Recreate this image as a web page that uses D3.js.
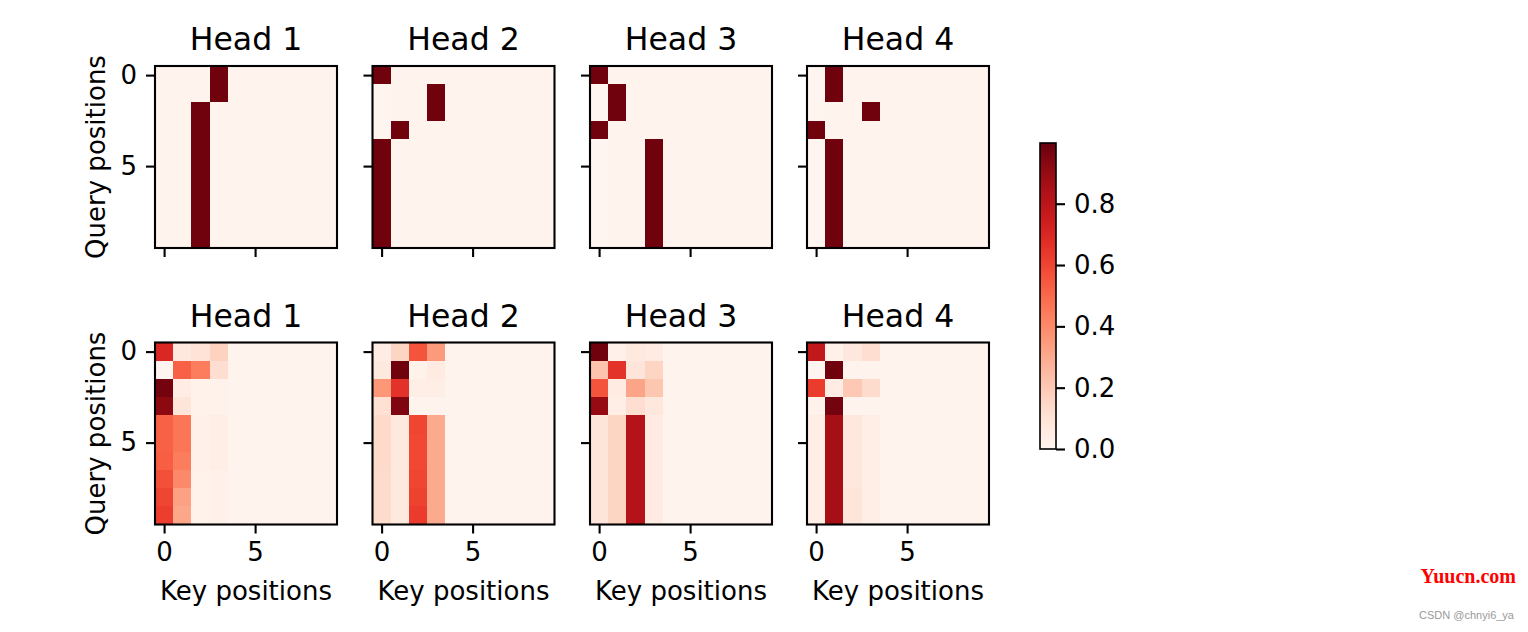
<!DOCTYPE html>
<html>
<head>
<meta charset="utf-8">
<script src="https://cdn.jsdelivr.net/npm/d3@7"></script>
<style>
  html, body { margin: 0; padding: 0; background: #ffffff; }
  svg { display: block; }
  text { font-family: "DejaVu Sans", sans-serif; }
</style>
</head>
<body>
<svg id="chart" width="1528" height="632"></svg>
<script>
// ---------- data ----------
const headTitles = ["Head 1", "Head 2", "Head 3", "Head 4"];
const xTicks = [0, 5];
const yTicks = [0, 5];
const cbarTicks = [0.0, 0.2, 0.4, 0.6, 0.8];
const xLabel = "Key positions";
const yLabel = "Query positions";
const vmax = 0.998;

// top row: each row = one query, columns = keys 0..9
const B = 0.01, D = 0.98;
const topHead1 = [
  [B,B,B,D,B,B,B,B,B,B],
  [B,B,B,D,B,B,B,B,B,B],
  [B,B,D,B,B,B,B,B,B,B],
  [B,B,D,B,B,B,B,B,B,B],
  [B,B,D,B,B,B,B,B,B,B],
  [B,B,D,B,B,B,B,B,B,B],
  [B,B,D,B,B,B,B,B,B,B],
  [B,B,D,B,B,B,B,B,B,B],
  [B,B,D,B,B,B,B,B,B,B],
  [B,B,D,B,B,B,B,B,B,B]
];
const topHead2 = [
  [D,B,B,B,B,B,B,B,B,B],
  [0,B,B,D,B,B,B,B,B,B],
  [0,B,B,D,B,B,B,B,B,B],
  [0,D,B,B,B,B,B,B,B,B],
  [D,B,B,B,B,B,B,B,B,B],
  [D,B,B,B,B,B,B,B,B,B],
  [D,B,B,B,B,B,B,B,B,B],
  [D,B,B,B,B,B,B,B,B,B],
  [D,B,B,B,B,B,B,B,B,B],
  [D,B,B,B,B,B,B,B,B,B]
];
const topHead3 = [
  [D,B,B,B,B,B,B,B,B,B],
  [0,D,B,B,B,B,B,B,B,B],
  [0,D,B,B,B,B,B,B,B,B],
  [D,B,B,B,B,B,B,B,B,B],
  [0,B,B,D,B,B,B,B,B,B],
  [0,B,B,D,B,B,B,B,B,B],
  [0,B,B,D,B,B,B,B,B,B],
  [0,B,B,D,B,B,B,B,B,B],
  [0,B,B,D,B,B,B,B,B,B],
  [0,B,B,D,B,B,B,B,B,B]
];
const topHead4 = [
  [0,D,B,B,B,B,B,B,B,B],
  [0,D,B,B,B,B,B,B,B,B],
  [0,B,B,D,B,B,B,B,B,B],
  [D,B,B,B,B,B,B,B,B,B],
  [0,D,B,B,B,B,B,B,B,B],
  [0,D,B,B,B,B,B,B,B,B],
  [0,D,B,B,B,B,B,B,B,B],
  [0,D,B,B,B,B,B,B,B,B],
  [0,D,B,B,B,B,B,B,B,B],
  [0,D,B,B,B,B,B,B,B,B]
];

// bottom row: only keys 0..3 carry weight, keys 4..9 are ~0
const botHead1 = [
  [0.70,0.08,0.10,0.17],
  [0.00,0.52,0.44,0.12],
  [0.97,0.05,0.02,0.02],
  [0.92,0.09,0.02,0.02],
  [0.52,0.46,0.03,0.04],
  [0.52,0.46,0.03,0.04],
  [0.53,0.44,0.03,0.04],
  [0.57,0.40,0.02,0.03],
  [0.60,0.33,0.02,0.03],
  [0.62,0.31,0.02,0.03]
];
const botHead2 = [
  [0.05,0.16,0.56,0.35],
  [0.07,0.98,0.02,0.06],
  [0.36,0.66,0.04,0.04],
  [0.11,0.95,0.01,0.01],
  [0.14,0.07,0.60,0.30],
  [0.14,0.07,0.59,0.30],
  [0.14,0.07,0.59,0.30],
  [0.13,0.07,0.60,0.30],
  [0.13,0.07,0.61,0.30],
  [0.13,0.07,0.63,0.30]
];
const botHead3 = [
  [0.98,0.03,0.07,0.06],
  [0.22,0.66,0.09,0.16],
  [0.56,0.06,0.32,0.21],
  [0.90,0.04,0.12,0.08],
  [0.09,0.16,0.82,0.06],
  [0.09,0.16,0.82,0.06],
  [0.09,0.16,0.82,0.06],
  [0.09,0.16,0.82,0.06],
  [0.09,0.16,0.82,0.06],
  [0.09,0.16,0.82,0.06]
];
const botHead4 = [
  [0.78,0.03,0.08,0.12],
  [0.00,0.98,0.01,0.01],
  [0.63,0.05,0.20,0.13],
  [0.02,0.97,0.01,0.01],
  [0.04,0.86,0.08,0.04],
  [0.04,0.86,0.08,0.04],
  [0.04,0.86,0.08,0.04],
  [0.04,0.86,0.08,0.04],
  [0.04,0.86,0.09,0.04],
  [0.04,0.86,0.09,0.04]
];
const topRow = [topHead1, topHead2, topHead3, topHead4];
const bottomRow = [botHead1, botHead2, botHead3, botHead4];
const nKeys = 10, nQueries = 10;

// ---------- layout ----------
const panelX = [155, 372.5, 590, 807];
const rowY = [66, 342.5];
const size = 182;
const fontPx = 26, titlePx = 31.5;
const tickLen = 9, tickPad = 9, lw = 2.1;

const svg = d3.select("#chart");
const color = d3.scaleSequential(d3.interpolateReds).domain([0, vmax]).clamp(true);

function full(m) {
  return m.map(r => r.concat(d3.range(nKeys - r.length).map(() => B)));
}

const rows = [topRow, bottomRow.map(full)];

rows.forEach((row, ri) => {
  row.forEach((mat, ci) => {
    const x0 = panelX[ci], y0 = rowY[ri];
    const xs = d3.scaleLinear().domain([-0.5, nKeys - 0.5]).range([x0, x0 + size]);
    const ys = d3.scaleLinear().domain([-0.5, nQueries - 0.5]).range([y0, y0 + size]);
    const g = svg.append("g");
    const cells = [];
    mat.forEach((r, i) => r.forEach((v, j) => cells.push({i, j, v})));
    g.selectAll("rect.cell").data(cells).enter().append("rect")
      .attr("class", "cell")
      .attr("x", d => xs(d.j - 0.5))
      .attr("y", d => ys(d.i - 0.5))
      .attr("width", d => xs(d.j + 0.5) - xs(d.j - 0.5) + 0.6)
      .attr("height", d => ys(d.i + 0.5) - ys(d.i - 0.5) + 0.6)
      .attr("shape-rendering", "crispEdges")
      .attr("fill", d => color(d.v));

    // axes
    const xAxis = d3.axisBottom(xs).tickValues(xTicks).tickSize(tickLen).tickPadding(tickPad)
      .tickFormat(ri === 1 ? d3.format("d") : () => "");
    const gx = g.append("g").attr("transform", `translate(0,${y0 + size})`).call(xAxis);
    const yAxis = d3.axisLeft(ys).tickValues(yTicks).tickSize(tickLen).tickPadding(tickPad)
      .tickFormat(ci === 0 ? d3.format("d") : () => "");
    const gy = g.append("g").attr("transform", `translate(${x0},0)`).call(yAxis);
    [gx, gy].forEach(a => {
      a.select(".domain").remove();
      a.selectAll(".tick line").attr("stroke", "#000").attr("stroke-width", lw);
      a.selectAll(".tick text").attr("fill", "#000")
        .style("font-family", "DejaVu Sans").style("font-size", fontPx + "px");
    });

    // spines
    g.append("rect").attr("x", x0).attr("y", y0).attr("width", size).attr("height", size)
      .attr("fill", "none").attr("stroke", "#000").attr("stroke-width", lw);

    // title
    g.append("text").attr("x", x0 + size / 2).attr("y", y0 - 16)
      .attr("text-anchor", "middle").style("font-size", titlePx + "px").attr("fill", "#000")
      .text(headTitles[ci]);

    if (ri === 1) {
      g.append("text").attr("x", x0 + size / 2).attr("y", 600)
        .attr("text-anchor", "middle").style("font-size", fontPx + "px").attr("fill", "#000")
        .text(xLabel);
    }
    if (ci === 0) {
      g.append("text")
        .attr("transform", `translate(105,${y0 + size / 2}) rotate(-90)`)
        .attr("text-anchor", "middle").style("font-size", fontPx + "px").attr("fill", "#000")
        .text(yLabel);
    }
  });
});

// ---------- colorbar ----------
const cbX = 1040, cbW = 16, cbTop = 143, cbBot = 449;
const cbScale = d3.scaleLinear().domain([0, vmax]).range([cbBot, cbTop]);
const defs = svg.append("defs");
const grad = defs.append("linearGradient").attr("id", "cbgrad")
  .attr("x1", 0).attr("y1", 1).attr("x2", 0).attr("y2", 0);
d3.range(0, 1.0001, 0.05).forEach(t => {
  grad.append("stop").attr("offset", t).attr("stop-color", color(t * vmax));
});
svg.append("rect").attr("x", cbX).attr("y", cbTop).attr("width", cbW).attr("height", cbBot - cbTop)
  .attr("fill", "url(#cbgrad)").attr("stroke", "#000").attr("stroke-width", 1.6);
const cbAxis = d3.axisRight(cbScale).tickValues(cbarTicks).tickSize(tickLen).tickPadding(tickPad)
  .tickFormat(d3.format(".1f"));
const gcb = svg.append("g").attr("transform", `translate(${cbX + cbW},0)`).call(cbAxis);
gcb.select(".domain").remove();
gcb.selectAll(".tick line").attr("stroke", "#000").attr("stroke-width", lw);
gcb.selectAll(".tick text").attr("fill", "#000")
  .style("font-family", "DejaVu Sans").style("font-size", fontPx + "px");

// ---------- watermarks ----------
svg.append("text").attr("x", 1516).attr("y", 583).attr("text-anchor", "end")
  .style("font-family", "Liberation Serif, serif").style("font-size", "20px").style("font-weight", "bold")
  .attr("fill", "#ff0000").text("Yuucn.com");
svg.append("text").attr("x", 1514).attr("y", 619).attr("text-anchor", "end")
  .style("font-family", "Liberation Sans, sans-serif").style("font-size", "11px")
  .attr("fill", "#9a9a9a").text("CSDN @chnyi6_ya");
</script>
</body>
</html>
